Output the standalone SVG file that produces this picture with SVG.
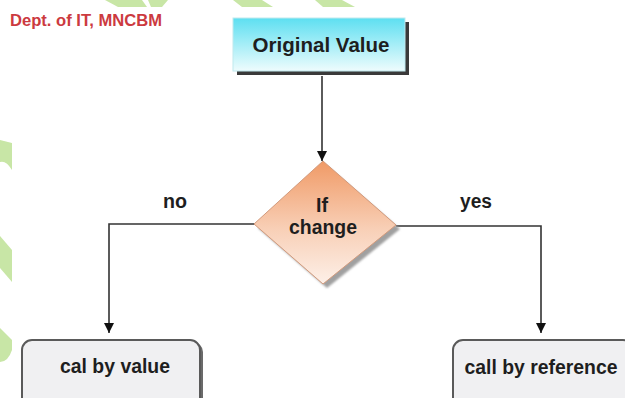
<svg xmlns="http://www.w3.org/2000/svg" width="625" height="398" viewBox="0 0 625 398">
  <defs>
    <linearGradient id="gCyan" x1="0" y1="0" x2="0" y2="1">
      <stop offset="0" stop-color="#5ddff1"/>
      <stop offset="1" stop-color="#eefcfd"/>
    </linearGradient>
    <linearGradient id="gOrange" x1="0" y1="0" x2="0" y2="1">
      <stop offset="0" stop-color="#f09a66"/>
      <stop offset="0.55" stop-color="#f8cfb6"/>
      <stop offset="1" stop-color="#fdf0e8"/>
    </linearGradient>
    <filter id="blur" x="-10%" y="-10%" width="120%" height="120%">
      <feGaussianBlur stdDeviation="1.2"/>
    </filter>
    <marker id="arrow" viewBox="0 0 10 10" refX="10" refY="5" markerWidth="10" markerHeight="10" markerUnits="userSpaceOnUse" orient="auto">
      <path d="M0,0 L10,5 L0,10 Z" fill="#111"/>
    </marker>
  </defs>
  <style>
    .lbl { font-family: "Liberation Sans", Arial, sans-serif; font-weight: bold; font-size: 19.5px; fill: #1e1e1e; text-anchor: middle; }
    .conn { fill: none; stroke: #333; stroke-width: 1.6; }
    .wm { fill: #c8e6a6; }
    .term { fill: #f0f0f2; stroke: #5a5a5a; stroke-width: 2; }
  </style>
  <rect width="625" height="398" fill="#ffffff"/>

  <g id="watermark">
    <polygon class="wm" points="105,0 142,0 147,7 118,7"/>
    <polygon class="wm" points="148,0 168,0 162,7 151,7"/>
    <polygon class="wm" points="233,0 262,0 273,7 242,7"/>
    <polygon class="wm" points="315,0 342,0 355,7 323,7"/>
    <path class="wm" d="M0,140 L12,143 L12,170 Q6,160 0,162 Z"/>
    <path class="wm" d="M0,236 L12,250 L12,282 L0,268 Z"/>
    <path class="wm" d="M0,328 L12,340 L12,350 Q8,362 0,362 Z"/>
  </g>

  <g id="header">
    <text x="10" y="26" font-family="Liberation Sans, Arial, sans-serif" font-weight="bold" font-size="16.5" fill="#cc3a3f" textLength="152" lengthAdjust="spacingAndGlyphs">Dept. of IT, MNCBM</text>
  </g>

  <g id="connectors">
    <line class="conn" x1="322" y1="76" x2="322" y2="161" marker-end="url(#arrow)"/>
    <polyline class="conn" points="255,224 109,224 109,333" marker-end="url(#arrow)"/>
    <polyline class="conn" points="396,226 541,226 541,333" marker-end="url(#arrow)"/>
  </g>

  <g id="node-original">
    <rect x="237" y="22" width="172" height="53" fill="#3a3a3a"/>
    <rect x="233" y="18" width="172" height="53" fill="url(#gCyan)" stroke="#bfe9ee" stroke-width="1"/>
    <text class="lbl" x="321" y="52" font-size="21" fill="#1a2633" textLength="137" lengthAdjust="spacingAndGlyphs">Original Value</text>
  </g>

  <g id="node-decision">
    <polygon points="327,166 400,229 327,288 258,228" fill="#a0a0a0" filter="url(#blur)"/>
    <polygon points="323,161 396,225 323,284 254,224" fill="url(#gOrange)" stroke="#d29a7c" stroke-width="1"/>
    <text class="lbl" x="322" y="212" textLength="12" lengthAdjust="spacingAndGlyphs">If</text>
    <text class="lbl" x="323" y="234" textLength="68" lengthAdjust="spacingAndGlyphs">change</text>
  </g>

  <g id="labels">
    <text class="lbl" x="175" y="208" textLength="24" lengthAdjust="spacingAndGlyphs">no</text>
    <text class="lbl" x="476" y="208" textLength="32" lengthAdjust="spacingAndGlyphs">yes</text>
  </g>

  <g id="node-value">
    <rect x="25" y="342" width="178" height="70" rx="10" fill="#6a6a6a"/>
    <rect class="term" x="22" y="340" width="178" height="70" rx="10"/>
    <text class="lbl" x="115" y="373" textLength="110" lengthAdjust="spacingAndGlyphs">cal by value</text>
  </g>

  <g id="node-reference">
    <rect x="456" y="342" width="180" height="70" rx="10" fill="#6a6a6a"/>
    <rect class="term" x="453" y="340" width="180" height="70" rx="10"/>
    <text class="lbl" x="541" y="374" textLength="153" lengthAdjust="spacingAndGlyphs">call by reference</text>
  </g>
</svg>
